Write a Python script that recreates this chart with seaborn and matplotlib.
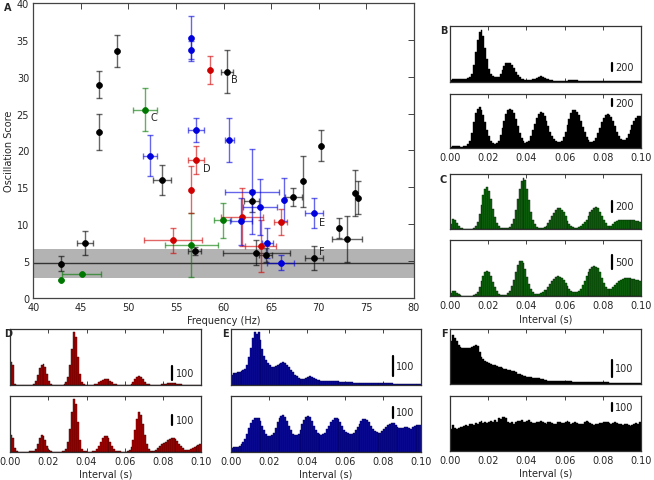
import numpy as np
import pandas as pd
import matplotlib
matplotlib.use('Agg')
import matplotlib.pyplot as plt
import seaborn as sns

# ---- panel A data: frequency (Hz), oscillation score, errors ----
black_freq = [42.96, 45.43, 46.86, 46.86, 48.8, 53.5, 56.95, 60.33, 62.94, 63.43,
              64.4, 67.33, 68.3, 70.2, 69.5, 72.17, 72.97, 73.8, 74.15]
black_score = [4.6, 7.4, 28.9, 22.5, 33.5, 15.95, 6.33, 30.7, 13.1, 6.1,
               5.8, 13.65, 15.8, 20.65, 5.4, 9.45, 7.95, 14.2, 13.6]
black_xerr = [0, 0.87, 0, 0, 0, 0.92, 0.7, 0.6, 0.8, 3.5,
              0.7, 0.9, 0, 0, 0.92, 0, 1.57, 0, 0]
black_yerr = [1.0, 1.6, 1.85, 2.5, 2.2, 2.0, 0.6, 2.9, 1.5, 1.7,
              0.9, 1.2, 3.45, 2.1, 1.6, 1.35, 3.15, 3.15, 2.25]

red_freq = [54.65, 56.6, 57.13, 58.55, 61.96, 63.88, 66.0]
red_score = [7.77, 14.65, 18.7, 30.9, 10.9, 7.05, 10.25]
red_xerr = [3.05, 0, 0.85, 0, 2.2, 1.6, 0.7]
red_yerr = [1.7, 3.2, 1.9, 1.85, 3.95, 3.5, 1.75]

blue_freq = [52.3, 56.6, 56.6, 57.13, 60.6, 62.94, 63.8, 61.86, 66.35, 64.6, 66.0, 69.5]
blue_score = [19.3, 35.2, 33.6, 22.8, 21.4, 14.4, 12.25, 10.35, 13.3, 7.4, 4.75, 11.5]
blue_xerr = [0.73, 0, 0, 0.85, 0.5, 2.85, 1.8, 1.15, 0, 0.55, 1.4, 0.92]
blue_yerr = [2.8, 3.1, 1.2, 1.6, 3.0, 5.8, 3.8, 3.2, 2.9, 2.0, 1.0, 2.0]

green_freq = [42.96, 45.1, 51.73, 56.6, 59.88]
green_score = [2.45, 3.17, 25.5, 7.15, 10.5]
green_xerr = [0, 2.05, 1.3, 2.8, 0.87]
green_yerr = [0, 0, 2.9, 4.35, 2.35]

baseline_mean = 4.65
baseline_lo, baseline_hi = 2.7, 6.6

labels = ['B', 'C', 'D', 'E', 'F']
label_x = [60.8, 52.3, 57.8, 70.05, 70.05]
label_y = [29.7, 24.5, 17.6, 10.25, 6.3]

# ---- autocorrelogram counts, 1 ms bins from 0 to 0.1 s ----
B_top = [50, 60, 70, 70, 65, 60, 65, 70, 80, 100,
         110, 200, 420, 750, 1050, 1250, 1300, 1150, 850, 560,
         330, 200, 150, 120, 110, 130, 200, 300, 400, 460,
         480, 470, 430, 350, 250, 170, 110, 80, 60, 50,
         45, 45, 50, 60, 80, 100, 120, 135, 125, 100,
         80, 60, 45, 35, 30, 28, 25, 25, 25, 25,
         25, 30, 40, 50, 55, 50, 40, 30, 25, 20,
         20, 20, 18, 15, 15, 15, 15, 12, 12, 12,
         12, 12, 15, 15, 12, 10, 10, 10, 10, 10,
         8, 8, 8, 8, 8, 6, 6, 6, 6, 6]
B_bot = [40, 45, 50, 50, 45, 40, 40, 45, 60, 100,
         200, 400, 700, 950, 1080, 1115, 1050, 900, 700, 500,
         330, 200, 130, 110, 130, 200, 350, 550, 750, 920,
         1030, 1070, 1050, 950, 800, 600, 420, 280, 180, 150,
         160, 200, 320, 480, 650, 820, 940, 978, 960, 880,
         750, 600, 450, 330, 240, 180, 160, 160, 200, 300,
         450, 620, 800, 950, 1030, 1050, 1000, 900, 750, 580,
         430, 300, 210, 175, 175, 200, 280, 400, 550, 700,
         820, 900, 930, 910, 850, 750, 600, 450, 330, 250,
         220, 230, 280, 380, 500, 620, 730, 820, 870, 885]
C_top = [90, 190, 170, 110, 60, 30, 15, 8, 5, 5,
         5, 10, 25, 60, 140, 280, 460, 640, 760, 785,
         720, 560, 380, 230, 120, 60, 30, 20, 20, 25,
         30, 50, 100, 200, 360, 560, 760, 900, 955, 920,
         760, 540, 330, 180, 90, 45, 30, 25, 30, 45,
         70, 110, 170, 240, 310, 360, 390, 393, 370, 320,
         240, 160, 100, 60, 40, 30, 30, 40, 60, 100,
         130, 180, 250, 320, 370, 400, 410, 390, 330, 250,
         170, 110, 70, 60, 70, 100, 130, 155, 165, 170,
         170, 172, 175, 175, 172, 168, 165, 160, 150, 140]
C_bot = [100, 195, 180, 120, 70, 40, 25, 15, 10, 10,
         10, 15, 30, 70, 160, 320, 520, 720, 860, 895,
         850, 700, 500, 310, 170, 90, 55, 45, 45, 60,
         100, 190, 350, 580, 850, 1080, 1220, 1245, 1150, 940,
         680, 430, 250, 140, 95, 80, 80, 100, 140, 210,
         230, 320, 420, 520, 610, 670, 700, 690, 640, 560,
         460, 350, 260, 190, 150, 140, 150, 190, 270, 400,
         540, 700, 850, 960, 1030, 1050, 1040, 980, 850, 650,
         460, 330, 260, 240, 260, 310, 380, 450, 520, 580,
         620, 635, 640, 640, 630, 615, 600, 580, 560, 545]
D_top = [166, 140, 10, 2, 2, 2, 2, 2, 2, 2,
         2, 3, 10, 30, 70, 120, 140, 150, 130, 80,
         30, 10, 3, 2, 2, 2, 2, 2, 5, 20,
         60, 140, 260, 376, 340, 200, 80, 20, 5, 2,
         2, 2, 2, 2, 5, 10, 20, 30, 38, 43,
         43, 40, 30, 20, 10, 5, 2, 2, 2, 2,
         2, 2, 3, 10, 25, 45, 60, 66, 60, 45,
         25, 10, 5, 2, 2, 2, 2, 2, 3, 5,
         8, 10, 12, 14, 14, 12, 14, 10, 8, 5,
         3, 2, 2, 2, 2, 2, 2, 2, 2, 2]
D_bot = [167, 140, 40, 3, 2, 2, 2, 2, 2, 2,
         3, 5, 10, 30, 80, 140, 167, 160, 120, 60,
         20, 5, 2, 2, 2, 2, 2, 3, 10, 30,
         100, 230, 400, 527, 480, 300, 120, 30, 8, 3,
         2, 2, 2, 5, 10, 30, 60, 100, 140, 160,
         160, 140, 100, 60, 30, 10, 5, 3, 2, 2,
         2, 5, 15, 50, 120, 220, 330, 394, 370, 280,
         170, 80, 30, 10, 5, 10, 20, 35, 55, 80,
         85, 100, 118, 130, 137, 135, 125, 105, 80, 55,
         35, 20, 15, 18, 28, 40, 52, 62, 70, 77]
E_top = [50, 58, 60, 62, 65, 68, 72, 80, 100, 140,
         190, 240, 271, 260, 271, 230, 180, 145, 125, 110,
         98, 92, 90, 95, 100, 105, 110, 113, 108, 100,
         88, 75, 62, 50, 42, 35, 30, 28, 30, 35,
         40, 42, 38, 32, 27, 24, 22, 20, 20, 18,
         17, 16, 16, 18, 20, 19, 16, 14, 13, 12,
         12, 12, 11, 11, 10, 10, 10, 9, 9, 9,
         9, 8, 8, 8, 8, 7, 7, 7, 7, 6,
         6, 6, 6, 6, 6, 5, 5, 5, 5, 5,
         5, 5, 5, 5, 4, 4, 4, 4, 4, 4]
E_bot = [30, 35, 38, 40, 50, 60, 80, 110, 150, 200,
         240, 270, 285, 288, 280, 260, 220, 180, 150, 135,
         130, 140, 160, 200, 250, 285, 300, 308, 295, 260,
         220, 180, 150, 140, 140, 150, 180, 230, 270, 295,
         302, 290, 260, 220, 180, 155, 145, 140, 145, 160,
         190, 220, 250, 270, 280, 285, 275, 250, 215, 185,
         165, 155, 150, 152, 160, 180, 205, 235, 260, 272,
         274, 268, 250, 220, 195, 175, 162, 158, 160, 170,
         190, 210, 225, 235, 240, 238, 225, 210, 200, 198,
         200, 205, 210, 200, 195, 205, 215, 225, 228, 228]
F_top = [254, 288, 270, 250, 230, 215, 214, 210, 212, 214,
         210, 215, 225, 228, 225, 190, 160, 144, 135, 128,
         124, 118, 112, 108, 104, 100, 96, 92, 88, 86,
         82, 80, 76, 72, 66, 58, 54, 50, 46, 42,
         40, 38, 36, 35, 33, 32, 30, 28, 24, 20,
         18, 17, 17, 16, 16, 15, 15, 16, 15, 14,
         14, 13, 12, 12, 11, 11, 10, 10, 9, 9,
         8, 8, 8, 8, 7, 7, 7, 7, 6, 6,
         6, 6, 6, 5, 5, 5, 5, 5, 5, 4,
         4, 4, 4, 4, 4, 4, 4, 4, 4, 4]
F_bot = [260, 308, 280, 270, 275, 290, 285, 300, 310, 305,
         320, 330, 315, 340, 325, 345, 360, 340, 350, 335,
         345, 360, 355, 370, 350, 400, 390, 410, 415, 400,
         355, 340, 345, 330, 350, 365, 360, 375, 350, 345,
         360, 370, 350, 340, 335, 345, 355, 365, 350, 340,
         330, 345, 355, 340, 330, 325, 345, 350, 335, 340,
         355, 365, 345, 330, 340, 350, 335, 325, 320, 330,
         345, 360, 350, 335, 320, 315, 325, 330, 340, 335,
         345, 355, 350, 340, 330, 335, 345, 340, 330, 320,
         315, 325, 330, 310, 300, 315, 330, 340, 325, 345]

sns.set_style("white")
plt.rcParams['font.family'] = ['DejaVu Sans']
plt.rcParams['font.size'] = 7

W, H = 654, 481
fig = plt.figure(figsize=(W / 100, H / 100), dpi=100)


def px_axes(l, t, r, b):
    return fig.add_axes([l / W, 1 - b / H, (r - l) / W, (b - t) / H])


# ---------------- panel A ----------------
ax = px_axes(33.3, 4, 414, 298.7)
ax.axhspan(baseline_lo, baseline_hi, color='#b3b3b3', lw=0, zorder=0)
ax.axhline(baseline_mean, color='#333333', lw=1, zorder=1)

groups = [
    (black_freq, black_score, black_xerr, black_yerr, '#000000'),
    (green_freq, green_score, green_xerr, green_yerr, '#007700'),
    (red_freq, red_score, red_xerr, red_yerr, '#d00000'),
    (blue_freq, blue_score, blue_xerr, blue_yerr, '#0000dd'),
]
for fx, sy, xe, ye, col in groups:
    ax.errorbar(fx, sy, xerr=xe, yerr=ye, fmt='none', ecolor=col, alpha=0.6,
                elinewidth=1, capsize=2.5, capthick=1, zorder=2)
for fx, sy, xe, ye, col in groups:
    sns.scatterplot(x=fx, y=sy, color=col, s=18, edgecolor=col, linewidth=0.5,
                    ax=ax, zorder=3)

for lab, lx, ly in zip(labels, label_x, label_y):
    ax.text(lx, ly, lab, fontsize=7, ha='left', va='center', color='#222222')

ax.set_xlim(40, 80)
ax.set_ylim(0, 40)
ax.set_xticks(range(40, 81, 5))
ax.set_yticks(range(0, 41, 5))
ax.tick_params(direction='in', top=True, right=True, length=4, width=0.6,
               labelsize=7, pad=3)
ax.set_xlabel('Frequency (Hz)', fontsize=7, labelpad=2)
ax.set_ylabel('Oscillation Score', fontsize=7, labelpad=2)
for sp in ax.spines.values():
    sp.set_color('#444444')
    sp.set_linewidth(0.9)
fig.text(4 / W, 1 - 8 / H, 'A', fontsize=7, fontweight='bold', ha='left', va='center')

# ---------------- histogram panels ----------------
edges = np.linspace(0, 0.1, 101)
centers = (edges[:-1] + edges[1:]) / 2


def hist_panel(box, counts, top, face, edge, bar_len, bar_frac, bottom_labels, xlabel):
    a = px_axes(*box)
    df = pd.DataFrame({'interval': centers, 'count': counts})
    sns.histplot(data=df, x='interval', weights='count', binwidth=0.001,
                 binrange=(0, 0.1), color=face, edgecolor=edge, linewidth=0.3,
                 alpha=1, ax=a)
    a.set_xlim(0, 0.1)
    a.set_ylim(0, top)
    a.set_yticks([])
    a.set_ylabel('')
    a.set_xticks(np.arange(0, 0.101, 0.02))
    a.tick_params(axis='x', direction='in', top=True, bottom=True, length=3,
                  width=0.6, labelsize=7, labelbottom=bottom_labels, pad=3)
    if bottom_labels:
        a.set_xticklabels(['0.00', '0.02', '0.04', '0.06', '0.08', '0.10'])
    a.set_xlabel(xlabel, fontsize=7, labelpad=2)
    y0 = bar_frac * top
    a.plot([0.0849, 0.0849], [y0, y0 + bar_len], color='black', lw=1.6)
    a.text(0.0865, y0 + bar_len / 2, str(bar_len), fontsize=7, ha='left', va='center')
    for sp in a.spines.values():
        sp.set_color('#333333')
        sp.set_linewidth(0.9)
    return a


black_face = '#000000'
hist_panel((450, 26.7, 641, 82.7), B_top, 1400, black_face, black_face, 200, 0.19, False, '')
hist_panel((450, 95, 641, 149), B_bot, 1480, black_face, black_face, 200, 0.77, True, '')
hist_panel((450, 174.7, 641, 230.3), C_top, 1040, '#0b6b0b', '#0a1f0a', 200, 0.32, False, '')
hist_panel((450, 241, 641, 297.3), C_bot, 1970, '#0b6b0b', '#0a1f0a', 500, 0.485, True, 'Interval (s)')
hist_panel((10, 330, 201.3, 386), D_top, 400, '#b30000', '#300000', 100, 0.095, False, '')
hist_panel((10, 397.3, 201.3, 452.7), D_bot, 554, '#b30000', '#300000', 100, 0.48, True, 'Interval (s)')
hist_panel((231, 330, 421.3, 385.5), E_top, 285, '#0a0aa0', '#000050', 100, 0.155, False, '')
hist_panel((231, 397.3, 421.3, 452.5), E_bot, 468, '#0a0aa0', '#000050', 100, 0.6, True, 'Interval (s)')
hist_panel((450, 330, 641, 384.5), F_top, 324, black_face, black_face, 100, 0.125, False, '')
hist_panel((450, 396.5, 641, 452), F_bot, 668, black_face, black_face, 100, 0.72, True, 'Interval (s)')

for lab, x, y in [('B', 440, 31), ('C', 440, 180), ('D', 4, 334), ('E', 222, 334), ('F', 441, 334)]:
    fig.text(x / W, 1 - y / H, lab, fontsize=7, fontweight='bold', ha='left', va='center')

fig.savefig('out.png', dpi=100)
